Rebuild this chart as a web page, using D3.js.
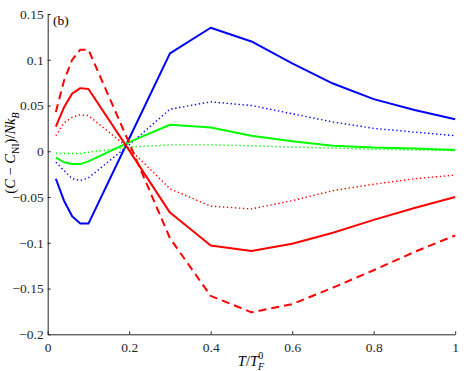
<!DOCTYPE html>
<html>
<head>
<meta charset="utf-8">
<script src="https://cdn.jsdelivr.net/npm/d3@7"></script>
<style>
  body { margin: 0; background: #fff; }
</style>
</head>
<body>
<svg id="chart" width="471" height="371"></svg>
<script>
// temperatures T/T_F^0
const temps = [0.02, 0.04, 0.06, 0.08, 0.1, 0.2, 0.3, 0.4, 0.5, 0.6, 0.7, 0.8, 0.9, 1.0];

// series values (C - C_NI)/Nk_B
const blueSolid  = [-0.030, -0.054, -0.071, -0.079, -0.079, 0.014, 0.107, 0.135, 0.120, 0.096, 0.074, 0.057, 0.045, 0.035];
const blueDotted = [-0.012, -0.021, -0.030, -0.032, -0.029, 0.007, 0.046, 0.054, 0.050, 0.041, 0.032, 0.025, 0.021, 0.017];
const greenSolid = [-0.007, -0.012, -0.014, -0.014, -0.011, 0.010, 0.029, 0.026, 0.017, 0.011, 0.006, 0.004, 0.003, 0.0015];
const greenDotted = [-0.002, -0.0025, -0.0025, -0.0025, -0.001, 0.0045, 0.007, 0.007, 0.006, 0.0046, 0.0035, 0.0022, 0.0015, 0.0008];
const redSolid   = [0.027, 0.048, 0.063, 0.069, 0.068, 0.001, -0.067, -0.103, -0.109, -0.101, -0.089, -0.075, -0.062, -0.050];
const redDashed  = [0.043, 0.077, 0.100, 0.111, 0.111, 0.009, -0.095, -0.158, -0.176, -0.167, -0.149, -0.130, -0.110, -0.092];
const redDotted  = [0.017, 0.031, 0.037, 0.040, 0.039, 0.003, -0.041, -0.060, -0.063, -0.054, -0.043, -0.036, -0.030, -0.026];

const xTicks = [0, 0.2, 0.4, 0.6, 0.8, 1];
const yTicks = [-0.2, -0.15, -0.1, -0.05, 0, 0.05, 0.1, 0.15];

const series = [
  { values: blueSolid, color: "#0000ff", style: "solid" },
  { values: blueDotted, color: "#0000ff", style: "dotted" },
  { values: greenSolid, color: "#00ff00", style: "solid" },
  { values: greenDotted, color: "#00ff00", style: "dotted" },
  { values: redSolid, color: "#ff0000", style: "solid" },
  { values: redDashed, color: "#ff0000", style: "dashed" },
  { values: redDotted, color: "#ff0000", style: "dotted" }
];

// pick a Times-like font that is actually installed
function pickSerif() {
  const ctx = document.createElement("canvas").getContext("2d");
  const sample = "0.15 (b) T/Nk";
  const w = f => { ctx.font = "20px " + f; return ctx.measureText(sample).width; };
  const mono = w("monospace");
  const names = ["Liberation Serif", "Times New Roman", "Tinos", "Times", "DejaVu Serif", "Noto Serif"];
  for (const n of names) {
    const a = w(`"${n}", monospace`), b = w(`"${n}", sans-serif`);
    if (a === b && a !== mono) return `"${n}"`;
  }
  return "serif";
}
const serif = pickSerif();

const svg = d3.select("#chart").style("font-family", serif);
const plotLeft = 47.7, plotRight = 455.2, plotTop = 14, plotBottom = 334.3;

const x = d3.scaleLinear().domain([0, 1]).range([plotLeft, plotRight]);
const y = d3.scaleLinear().domain([-0.2, 0.15]).range([plotBottom, plotTop]);

const line = d3.line()
  .x((d, i) => x(temps[i]))
  .y(d => y(d));

svg.append("g")
  .selectAll("path")
  .data(series)
  .enter().append("path")
  .attr("d", d => line(d.values))
  .attr("fill", "none")
  .attr("stroke", d => d.color)
  .attr("stroke-width", d => d.style === "dotted" ? 1.4 : 2)
  .attr("stroke-linejoin", "round")
  .attr("stroke-dasharray", d => d.style === "dashed" ? "8,5" : d.style === "dotted" ? "1.4,2.6" : null);

// axes, ticks pointing inward
const xAxis = svg.append("g")
  .attr("transform", `translate(0,${plotBottom})`)
  .call(d3.axisBottom(x).tickValues(xTicks).tickFormat(d3.format("~g")).tickSize(-3).tickSizeOuter(0).tickPadding(6));

const yAxis = svg.append("g")
  .attr("transform", `translate(${plotLeft},0)`)
  .call(d3.axisLeft(y).tickValues(yTicks).tickFormat(d3.format("~g")).tickSize(-3).tickSizeOuter(0).tickPadding(4));

[xAxis, yAxis].forEach(g => {
  g.attr("font-family", null).attr("font-size", null);
  g.select(".domain").attr("stroke", "#262626").attr("stroke-width", 1);
  g.selectAll(".tick line").attr("stroke", "#262626");
  g.selectAll(".tick text")
    .style("font-family", serif)
    .style("font-size", "13.5px")
    .attr("fill", "#262626");
});
xAxis.selectAll(".tick text").attr("dy", "0.9em");
yAxis.selectAll(".tick text").attr("x", -4);

// panel label
svg.append("text")
  .attr("x", 53).attr("y", 25)
  .style("font-size", "13.5px")
  .text("(b)");

// x label
const xl = svg.append("text")
  .attr("x", 251).attr("y", 366)
  .attr("text-anchor", "middle")
  .style("font-size", "14.5px");
xl.append("tspan").style("font-style", "italic").text("T");
xl.append("tspan").text("/");
xl.append("tspan").style("font-style", "italic").text("T");
xl.append("tspan").attr("dy", 4).style("font-style", "italic").style("font-size", "10px").text("F");
xl.append("tspan").attr("dx", -6).attr("dy", -11).style("font-size", "10px").text("0");

// y label
const yl = svg.append("text")
  .attr("transform", "translate(15,153) rotate(-90)")
  .attr("text-anchor", "middle")
  .style("font-size", "14.5px");
yl.append("tspan").text("(");
yl.append("tspan").style("font-style", "italic").text("C");
yl.append("tspan").text(" − ");
yl.append("tspan").style("font-style", "italic").text("C");
yl.append("tspan").attr("dy", 4).style("font-size", "10px").text("NI");
yl.append("tspan").attr("dy", -4).text(")/");
yl.append("tspan").style("font-style", "italic").text("Nk");
yl.append("tspan").attr("dy", 4).style("font-style", "italic").style("font-size", "10px").text("B");
</script>
</body>
</html>
